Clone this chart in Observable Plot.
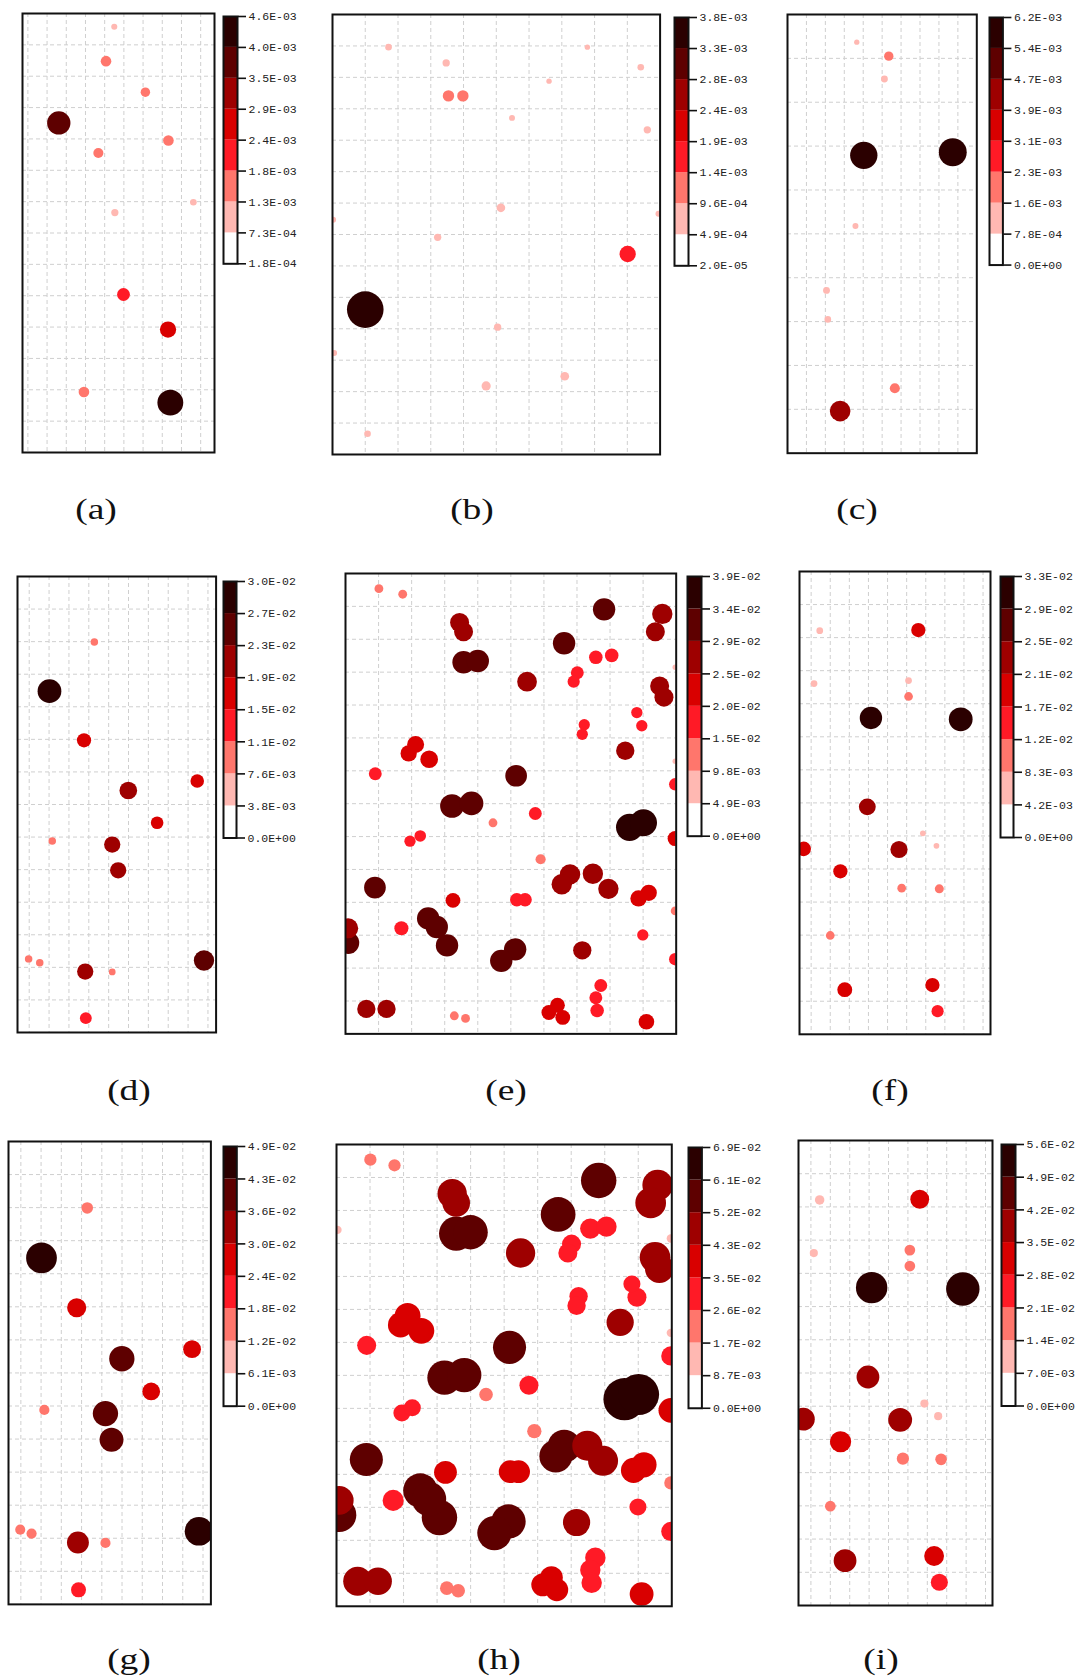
<!DOCTYPE html>
<html>
<head>
<meta charset="utf-8">
<script src="https://cdn.jsdelivr.net/npm/d3@7"></script>
<script src="https://cdn.jsdelivr.net/npm/@observablehq/plot@0.6"></script>
<style>
  body { margin: 0; background: #fff; }
  #fig { position: relative; width: 1077px; height: 1679px; overflow: hidden; background: #fff; }
  #fig svg { position: absolute; }
  .cap {
    position: absolute;
    font-family: "Liberation Serif", "DejaVu Serif", serif;
    font-size: 30px;
    line-height: 30px;
    color: #111;
    white-space: nowrap;
    transform: translateX(-50%) scaleX(1.25);
  }
</style>
</head>
<body>
<div id="fig"></div>
<script>
// Eight concentration classes, light to dark
const palette = ["#ffffff", "#ffb8b2", "#ff766c", "#ff1a26", "#d90000", "#9e0000", "#5e0000", "#2b0000"];

// Colour-bar break values (bottom to top) for each panel
const aTicks = [1.8e-4, 7.3e-4, 1.3e-3, 1.8e-3, 2.4e-3, 2.9e-3, 3.5e-3, 4.0e-3, 4.6e-3];
const bTicks = [2.0e-5, 4.9e-4, 9.6e-4, 1.4e-3, 1.9e-3, 2.4e-3, 2.8e-3, 3.3e-3, 3.8e-3];
const cTicks = [0, 7.8e-4, 1.6e-3, 2.3e-3, 3.1e-3, 3.9e-3, 4.7e-3, 5.4e-3, 6.2e-3];
const dTicks = [0, 3.8e-3, 7.6e-3, 1.1e-2, 1.5e-2, 1.9e-2, 2.3e-2, 2.7e-2, 3.0e-2];
const eTicks = [0, 4.9e-3, 9.8e-3, 1.5e-2, 2.0e-2, 2.5e-2, 2.9e-2, 3.4e-2, 3.9e-2];
const fTicks = [0, 4.2e-3, 8.3e-3, 1.2e-2, 1.7e-2, 2.1e-2, 2.5e-2, 2.9e-2, 3.3e-2];
const gTicks = [0, 6.1e-3, 1.2e-2, 1.8e-2, 2.4e-2, 3.0e-2, 3.6e-2, 4.3e-2, 4.9e-2];
const hTicks = [0, 8.7e-3, 1.7e-2, 2.6e-2, 3.5e-2, 4.3e-2, 5.2e-2, 6.1e-2, 6.9e-2];
const iTicks = [0, 7.0e-3, 1.4e-2, 2.1e-2, 2.8e-2, 3.5e-2, 4.2e-2, 4.9e-2, 5.6e-2];

// Panel (a): grid-unit positions and values
const aX = [4.50, 4.07, 6.12, 1.61, 7.32, 3.67, 8.62, 4.53, 4.98, 7.30, 2.92, 7.42];
const aY = [13.58, 12.48, 11.49, 10.51, 9.95, 9.55, 7.98, 7.65, 5.04, 3.92, 1.93, 1.59];
const aV = [9.0e-4, 1.7e-3, 1.5e-3, 3.95e-3, 1.7e-3, 1.6e-3, 1.0e-3, 1.1e-3, 2.1e-3, 2.7e-3, 1.7e-3, 4.4e-3];

// Panel (b)
const bX = [1.71, 3.47, 7.78, 9.41, 6.61, 3.54, 3.98, 5.48, 9.61, 5.14, 0.02, 9.95, 3.21, 9.01, 1.00, 5.04, 0.05, 7.09, 4.69, 1.07];
const bY = [12.96, 12.46, 12.96, 12.32, 11.88, 11.41, 11.41, 10.71, 10.33, 7.85, 7.47, 7.66, 6.91, 6.38, 4.61, 4.05, 3.23, 2.49, 2.18, 0.66];
const bV = [6.7e-4, 7.4e-4, 5.4e-4, 6.7e-4, 5.4e-4, 1.15e-3, 1.15e-3, 6.0e-4, 7.4e-4, 8.8e-4, 6.0e-4, 6.0e-4, 7.4e-4, 1.65e-3, 3.7e-3, 7.4e-4, 6.0e-4, 8.8e-4, 9.3e-4, 6.7e-4];

// Panel (c)
const cX = [3.66, 5.35, 5.12, 4.03, 8.73, 3.59, 2.06, 2.13, 5.67, 2.78];
const cY = [9.37, 9.05, 8.53, 6.79, 6.86, 5.18, 3.71, 3.05, 1.48, 0.96];
const cV = [1.16e-3, 2.04e-3, 1.5e-3, 5.97e-3, 6.1e-3, 1.31e-3, 1.5e-3, 1.45e-3, 2.2e-3, 4.5e-3];

// Panels (d) and (g) share the same sites
const dgX = [3.28, 1.02, 2.76, 8.46, 4.99, 6.44, 1.16, 4.18, 4.48, -0.03, 0.53, 8.80, 2.82, 4.18, 2.85];
const dgY = [11.99, 10.48, 8.97, 7.72, 7.43, 6.44, 5.88, 5.77, 4.98, 2.26, 2.14, 2.21, 1.87, 1.86, 0.44];
const dV = [9.2e-3, 2.92e-2, 1.75e-2, 1.67e-2, 2.17e-2, 1.55e-2, 9.2e-3, 2.0e-2, 2.0e-2, 9.2e-3, 9.2e-3, 2.5e-2, 2.0e-2, 8.3e-3, 1.45e-2];
const gV = [1.48e-2, 4.79e-2, 2.78e-2, 2.55e-2, 3.85e-2, 2.55e-2, 1.24e-2, 3.85e-2, 3.61e-2, 1.22e-2, 1.24e-2, 4.4e-2, 3.26e-2, 1.24e-2, 2.07e-2];

// Panels (e) and (h) share the same sites
const ehX = [1.01, 1.73, 3.45, 3.57, 7.82, 9.58, 9.37, 6.61, 3.57, 4.00,
             7.57, 8.05, 5.49, 7.01, 6.90, 9.97, 9.50, 9.63, 8.81, 8.96,
             7.22, 7.16, 8.46, 2.12, 1.91, 2.53, 9.97, 0.90, 5.16, 9.97,
             3.22, 3.81, 5.74, 4.46, 8.59, 9.01, 1.95, 2.26, 9.97, 5.90,
             6.79, 6.54, 7.48, 7.95, 8.86, 9.17, 0.89, 3.25, 5.18, 5.43,
             9.97, 0.08, 0.08, 1.69, 2.50, 2.76, 3.07, 5.13, 4.71, 7.16,
             8.99, 9.97, 7.72, 7.57, 7.61, 0.63, 1.24, 3.29, 3.63, 6.41,
             6.15, 6.57, 9.10, 0.03];
const ehY = [13.54, 13.37, 12.51, 12.23, 12.91, 12.77, 12.23, 11.88, 11.30, 11.34,
             11.45, 11.51, 10.71, 10.98, 10.71, 11.15, 10.58, 10.24, 9.77, 9.37,
             9.40, 9.11, 8.61, 8.80, 8.53, 8.35, 8.29, 7.91, 7.85, 7.59,
             6.93, 7.01, 6.70, 6.42, 6.28, 6.42, 5.86, 6.02, 5.94, 5.31,
             4.85, 4.55, 4.87, 4.41, 4.12, 4.29, 4.45, 4.06, 4.08, 4.08,
             3.74, 3.21, 2.77, 3.21, 3.51, 3.25, 2.69, 2.57, 2.22, 2.54,
             3.01, 2.27, 1.47, 1.10, 0.71, 0.76, 0.76, 0.55, 0.47, 0.87,
             0.65, 0.50, 0.37, 11.41];
const eV = [1.2e-2, 1.2e-2, 2.65e-2, 2.65e-2, 3.13e-2, 2.84e-2, 2.65e-2, 3.13e-2, 3.13e-2, 3.13e-2,
            1.87e-2, 1.87e-2, 2.75e-2, 1.78e-2, 1.68e-2, 7.0e-3, 2.65e-2, 2.65e-2, 1.55e-2, 1.55e-2,
            1.55e-2, 1.55e-2, 2.55e-2, 2.36e-2, 2.26e-2, 2.45e-2, 7.0e-3, 1.78e-2, 3.03e-2, 1.7e-2,
            3.32e-2, 3.32e-2, 1.78e-2, 1.2e-2, 3.8e-2, 3.8e-2, 1.55e-2, 1.59e-2, 2.1e-2, 1.39e-2,
            2.85e-2, 2.85e-2, 2.84e-2, 2.84e-2, 2.26e-2, 2.26e-2, 3.03e-2, 2.05e-2, 1.87e-2, 1.87e-2,
            1.2e-2, 2.8e-2, 3.1e-2, 1.95e-2, 3.13e-2, 3.13e-2, 3.13e-2, 3.13e-2, 3.13e-2, 2.55e-2,
            1.55e-2, 1.7e-2, 1.78e-2, 1.78e-2, 1.87e-2, 2.55e-2, 2.55e-2, 1.2e-2, 1.2e-2, 2.05e-2,
            2.05e-2, 2.05e-2, 2.17e-2, 3.0e-3];
const hV = [1.86e-2, 1.86e-2, 4.67e-2, 4.4e-2, 5.69e-2, 4.9e-2, 4.9e-2, 5.57e-2, 5.5e-2, 5.5e-2,
            3.2e-2, 3.2e-2, 4.67e-2, 2.98e-2, 2.98e-2, 1.2e-2, 4.9e-2, 4.6e-2, 2.65e-2, 2.98e-2,
            2.87e-2, 2.87e-2, 4.33e-2, 4.11e-2, 4.0e-2, 4.11e-2, 1.2e-2, 2.98e-2, 5.3e-2, 3.0e-2,
            5.5e-2, 5.5e-2, 2.98e-2, 2.08e-2, 6.8e-2, 6.6e-2, 2.65e-2, 2.65e-2, 3.9e-2, 2.2e-2,
            5.3e-2, 5.25e-2, 4.79e-2, 4.79e-2, 4.0e-2, 4.0e-2, 5.3e-2, 3.6e-2, 3.6e-2, 3.6e-2,
            2.0e-2, 4.6e-2, 5.5e-2, 3.32e-2, 5.5e-2, 5.5e-2, 5.69e-2, 5.5e-2, 5.5e-2, 4.33e-2,
            2.65e-2, 3.0e-2, 3.2e-2, 3.2e-2, 3.2e-2, 4.6e-2, 4.4e-2, 2.08e-2, 2.08e-2, 3.6e-2,
            3.6e-2, 3.6e-2, 3.77e-2, 1.2e-2];

// Panels (f) and (i) share the same sites
const fiX = [0.45, 5.61, 0.15, 5.10, 5.10, 3.13, 7.83, 2.94, 5.85, -0.39, 4.60, 6.56, 1.53, 4.74, 6.71, 1.00, 1.76, 6.35, 6.62];
const fiY = [12.21, 12.23, 10.61, 10.70, 10.22, 9.57, 9.53, 6.88, 6.08, 5.61, 5.59, 5.70, 4.93, 4.42, 4.40, 2.99, 1.35, 1.49, 0.70];
const fV = [6.0e-3, 1.75e-2, 6.0e-3, 6.0e-3, 9.0e-3, 2.99e-2, 3.2e-2, 2.15e-2, 4.5e-3, 1.8e-2, 2.2e-2, 4.5e-3, 1.75e-2, 9.0e-3, 9.5e-3, 9.0e-3, 1.85e-2, 1.75e-2, 1.43e-2];
const iV = [1.23e-2, 2.9e-2, 9.9e-3, 1.45e-2, 1.45e-2, 5.14e-2, 5.5e-2, 3.6e-2, 9.9e-3, 3.6e-2, 3.8e-2, 9.9e-3, 3.31e-2, 1.72e-2, 1.6e-2, 1.45e-2, 3.6e-2, 3.07e-2, 2.58e-2];

const captions = ["(a)", "(b)", "(c)", "(d)", "(e)", "(f)", "(g)", "(h)", "(i)"];

// Page layout: frame box [left, top, right, bottom], colour-bar box, caption centre
const g10 = d3.range(0, 10), g9 = d3.range(1, 10), g13 = d3.range(1, 14);
const panels = [
  {x: aX, y: aY, v: aV, ticks: aTicks, frame: [22, 13, 214, 452], xd: [-0.28, 9.72], yd: [0, 14], xg: g10, yg: g13, r: [0.5, 13.5], bar: [222.5, 15.7, 236.5, 263], cap: [96, 512]},
  {x: bX, y: bY, v: bV, ticks: bTicks, frame: [331.7, 14, 659.3, 454], xd: [0, 10], yd: [0, 14], xg: g9, yg: g13, r: [0, 18.8], bar: [674.3, 16.7, 688.3, 265], cap: [472, 512]},
  {x: cX, y: cY, v: cV, ticks: cTicks, frame: [786.7, 14, 976, 452.7], xd: [0, 10], yd: [0, 10], xg: g9, yg: g9, r: [0, 14.2], bar: [989.3, 16.7, 1002.7, 264.3], cap: [856.5, 512]},
  {x: dgX, y: dgY, v: dV, ticks: dTicks, frame: [16.7, 575.8, 215.3, 1031.8], xd: [-0.59, 9.41], yd: [0, 14], xg: g10, yg: g13, r: [0, 12.2], bar: [223.3, 580.7, 236.3, 837.2], cap: [129, 1093]},
  {x: ehX, y: ehY, v: eV, ticks: eTicks, frame: [345.3, 573.1, 676, 1033.5], xd: [0, 10], yd: [0, 14], xg: g9, yg: g13, r: [0.2, 13.9], bar: [686.7, 575.8, 700.7, 835.5], cap: [506, 1093]},
  {x: fiX, y: fiY, v: fV, ticks: fTicks, frame: [799, 571.4, 990, 1034.2], xd: [-0.61, 9.39], yd: [0, 14], xg: g10, yg: g13, r: [1.4, 12.2], bar: [999.5, 576.2, 1012.5, 837.2], cap: [889.5, 1093]},
  {x: dgX, y: dgY, v: gV, ticks: gTicks, frame: [8.3, 1140.9, 210.7, 1603.8], xd: [-0.61, 9.39], yd: [0, 14], xg: g10, yg: g13, r: [1.5, 15.7], bar: [222.7, 1146.2, 236, 1405.9], cap: [129, 1662]},
  {x: ehX, y: ehY, v: hV, ticks: hTicks, frame: [335.7, 1144.4, 671, 1606.2], xd: [0, 10], yd: [0, 14], xg: g9, yg: g13, r: [0.5, 21.4], bar: [688.3, 1146.9, 701.7, 1407.7], cap: [499, 1662]},
  {x: fiX, y: fiY, v: iV, ticks: iTicks, frame: [797.7, 1139.8, 991.7, 1604.8], xd: [-0.64, 9.36], yd: [0, 14], xg: g10, yg: g13, r: [1.3, 17.0], bar: [1001, 1144.4, 1015, 1405.9], cap: [881, 1662]}
];

// 4.6e-3 -> "4.6E-03"
function sci(v) {
  const [m, e] = v.toExponential(1).split("e");
  const n = +e;
  return m + "E" + (n < 0 ? "-" : "+") + String(Math.abs(n)).padStart(2, "0");
}

const fig = document.getElementById("fig");
const M = 3;

panels.forEach((p, k) => {
  const [L, T, R, B] = p.frame;
  const colorScale = {type: "threshold", domain: p.ticks.slice(1, -1), range: palette};
  const pts = p.x.map((x, j) => ({x, y: p.y[j], v: p.v[j]}));

  const chart = Plot.plot({
    width: R - L + 2 * M,
    height: B - T + 2 * M,
    margin: M,
    style: {background: "transparent"},
    x: {domain: p.xd, axis: null},
    y: {domain: p.yd, axis: null},
    color: colorScale,
    r: {type: "linear", domain: [0, p.ticks[p.ticks.length - 1]], range: p.r},
    marks: [
      Plot.gridX(p.xg, {stroke: "#cfcfcf", strokeOpacity: 1, strokeWidth: 1, strokeDasharray: "4,3"}),
      Plot.gridY(p.yg, {stroke: "#cfcfcf", strokeOpacity: 1, strokeWidth: 1, strokeDasharray: "4,3"}),
      Plot.dot(pts, {x: "x", y: "y", r: "v", fill: "v", clip: true}),
      Plot.frame({stroke: "#111", strokeWidth: 2})
    ]
  });
  chart.style.left = (L - M) + "px";
  chart.style.top = (T - M) + "px";
  fig.appendChild(chart);

  // Vertical colour bar with its class breaks
  const [bl, bt, br, bb] = p.bar;
  const n = p.ticks.length - 1;
  const LM = 2, RM = 64, TM = 8, BM = 8;
  const bar = Plot.plot({
    width: br - bl + LM + RM,
    height: bb - bt + TM + BM,
    marginLeft: LM, marginRight: RM, marginTop: TM, marginBottom: BM,
    style: {background: "transparent", fontFamily: "'Liberation Mono', 'DejaVu Sans Mono', monospace", fontSize: "11.5px", color: "#222"},
    x: {domain: [0, 1], axis: null},
    y: {domain: [0, n], axis: null},
    color: colorScale,
    marks: [
      Plot.rect(d3.range(n), {x1: () => 0, x2: () => 1, y1: d => d, y2: d => d + 1,
        fill: d => (p.ticks[d] + p.ticks[d + 1]) / 2}),
      Plot.frame({stroke: "#111", strokeWidth: 2}),
      Plot.axisY(d3.range(n + 1), {anchor: "right", label: null, tickSize: 8, tickPadding: 3,
        tickFormat: i => sci(p.ticks[i]), stroke: "#111", strokeWidth: 1.6,
        fontSize: 11.5, fontFamily: "'Liberation Mono', monospace", fill: "#222"})
    ]
  });
  bar.style.left = (bl - LM) + "px";
  bar.style.top = (bt - TM) + "px";
  fig.appendChild(bar);

  const cap = document.createElement("div");
  cap.className = "cap";
  cap.textContent = captions[k];
  cap.style.left = p.cap[0] + "px";
  cap.style.top = (p.cap[1] - 18) + "px";
  fig.appendChild(cap);
});
</script>
</body>
</html>
